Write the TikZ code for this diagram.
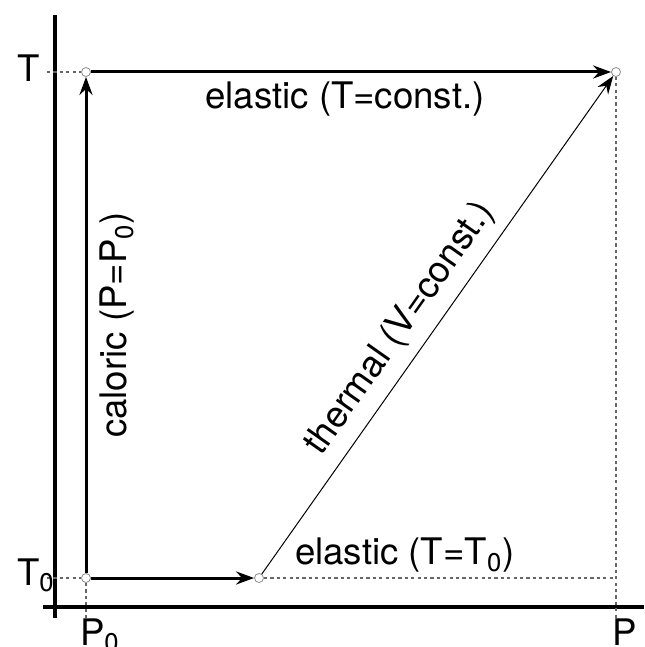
\documentclass[tikz,border=0pt]{standalone}
\usepackage{fontspec}
\setmainfont{TeX Gyre Heros}
\usetikzlibrary{arrows.meta, positioning}
\tikzset{
  axis/.style  ={line width=2pt},
  proc/.style  ={-{Stealth[length=9pt, width=6.5pt, inset=3pt]}, line width=1.5pt},
  procthin/.style={-{Stealth[length=9pt, width=6.5pt, inset=3pt]}, line width=0.5pt},
  % small open circles marking the states
  state/.style ={circle, draw=black!45, line width=0.4pt, minimum size=4.5pt,
                 inner sep=0pt},
  guide/.style ={black!60, line width=0.6pt, dash pattern=on 1.6pt off 1.6pt},
  lbl/.style   ={font=\fontsize{18.3}{22}\selectfont, text=black},
}
\begin{document}
\begin{tikzpicture}[x=0.5pt, y=-0.5pt]
  \useasboundingbox (0,0) rectangle (644,647);
  % axes
  \coordinate (ytop) at (55,15);
  \coordinate (ybot) at (55,618);
  \coordinate (xl)   at (43,607);
  \coordinate (xr)   at (644,607);
  \draw[axis] (ytop) -- (ybot);
  \draw[axis] (xl) -- (xr);
  % states
  \node[state] (s0) at (86,578)  {};
  \node[state] (s1) at (86,72)   {};
  \node[state] (s2) at (616,72)  {};
  \node[state] (s3) at (259,578) {};
  % guide ends
  \coordinate (gT)  at (47,72);
  \coordinate (gT0) at (47,578);
  \coordinate (gP0) at (86,618);
  \coordinate (gP)  at (616,618);
  \coordinate (gTr) at (616,578);
  \draw[guide] (gT) -- (s1);
  \draw[guide] (gT0) -- (s0);
  \draw[guide] (s0) -- (gP0);
  \draw[guide] (s2) -- (gP);
  \draw[guide] (s3) -- (gTr)
    node[lbl, pos=0.4, above=-1pt] {elastic (T=T\textsubscript{0})};
  % axis labels
  \node[lbl, anchor=base west] (lT)  at (10,82)   {T};
  \node[lbl, anchor=base west] (lT0) at (10,585)  {T\textsubscript{0}};
  \node[lbl, anchor=base west] (lP0) at (73,645)  {P\textsubscript{0}};
  \node[lbl, anchor=base west] (lP)  at (605,645) {P};
  % processes
  \draw[proc] (s0) -- (s1)
    node[lbl, midway, sloped, below=3pt] {caloric (P=P\textsubscript{0})};
  \draw[proc] (s1) -- (s2)
    node[lbl, midway, below=1pt, xshift=-3pt] {elastic (T=const.)};
  \draw[proc] (s0) -- (s3);
  \draw[procthin] (s3) -- (s2)
    node[lbl, pos=0.46, sloped, above=2pt] {thermal (V=const.)};
\end{tikzpicture}
\end{document}
